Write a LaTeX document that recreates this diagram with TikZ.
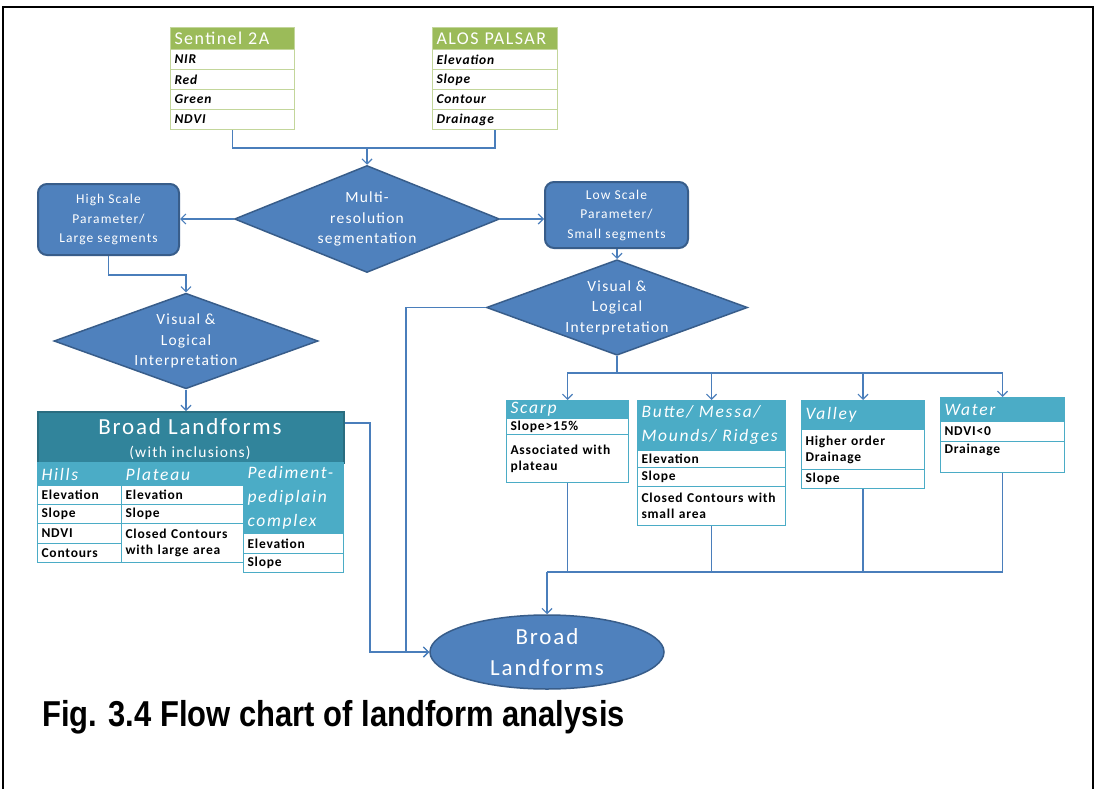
\documentclass[tikz,border=0pt]{standalone}
\usepackage{fontspec}
\setmainfont{Carlito}[LetterSpace=8]
\newfontfamily\capfont{Liberation Sans}[FakeStretch=0.86]
\usetikzlibrary{shapes.geometric,arrows.meta,calc}
\definecolor{bfill}{HTML}{4F81BD}
\definecolor{bdraw}{HTML}{385D8A}
\definecolor{lnc}{HTML}{4A7EBB}
\definecolor{ghd}{HTML}{9BBB59}
\definecolor{gbd}{HTML}{C3D69B}
\definecolor{tdark}{HTML}{31849B}
\definecolor{tdarkbd}{HTML}{2A6D80}
\definecolor{tmid}{HTML}{4BACC6}
\definecolor{tbd}{HTML}{4BACC6}
\newcommand\cellat[7]{\pgfmathsetlengthmacro\cw{#5-8}\node[#1, minimum height=#6, text width=\cw] (#2) at (#3,#4) {#7};}
\tikzset{
 conn/.style={draw=lnc, line width=1.3pt},
 arr/.style={conn, -{Straight Barb[length=5pt,width=10pt,line width=1.2pt]}},
 sbox/.style={rectangle, rounded corners=9pt, fill=bfill, draw=bdraw, line width=2pt, text=white, align=center, inner sep=0pt, font=\fontsize{13.5}{19.5}\selectfont},
 dia/.style={diamond, aspect=2.5, fill=bfill, draw=bdraw, line width=1.5pt, text=white, align=center, inner sep=0pt, font=\fontsize{15.5}{20.5}\selectfont},
 cbase/.style={rectangle, anchor=north west, inner xsep=4pt, inner ysep=0pt, align=left},
 ghdcell/.style={cbase, fill=ghd, draw=gbd, line width=1pt, text=white, font=\fontsize{18}{20}\selectfont},
 grncell/.style={cbase, fill=white, draw=gbd, line width=1pt, font=\bfseries\itshape\fontsize{13.5}{15}\selectfont\addfontfeature{LetterSpace=6}},
 tlhcell/.style={cbase, fill=tmid, draw=tmid, line width=1pt, text=white, font=\itshape\fontsize{17.5}{24}\selectfont\addfontfeature{LetterSpace=10}},
 tlcell/.style={cbase, fill=white, draw=tbd, line width=1pt, font=\bfseries\fontsize{13.5}{16}\selectfont\addfontfeature{LetterSpace=6}},
}
\begin{document}
\begin{tikzpicture}[x=1pt,y=-1pt]
\useasboundingbox (0,0) rectangle (1095,789);
\fill[white] (0,0) rectangle (1095,789);
\draw[line width=2.2pt] (3,800) -- (3,7) -- (1093,7) -- (1093,800);

% level coordinates
\coordinate (tl) at (0,148);
\coordinate (hl) at (0,275);
\coordinate (trl) at (0,373);
\coordinate (ml) at (0,572);
\coordinate (bk) at (370,0);
\coordinate (ck) at (406,0);

% Sentinel 2A
\cellat{ghdcell}{s0}{170}{27}{124}{22}{Sentinel 2A}
\cellat{grncell}{s1}{170}{49}{124}{20}{NIR}
\cellat{grncell}{s2}{170}{69}{124}{20}{Red}
\cellat{grncell}{s3}{170}{89}{124}{20}{Green}
\cellat{grncell}{s4}{170}{109}{124}{20}{NDVI}
% ALOS PALSAR
\cellat{ghdcell}{a0}{432}{27}{125}{22}{ALOS PALSAR}
\cellat{grncell}{a1}{432}{49}{125}{20}{Elevation}
\cellat{grncell}{a2}{432}{69}{125}{20}{Slope}
\cellat{grncell}{a3}{432}{89}{125}{20}{Contour}
\cellat{grncell}{a4}{432}{109}{125}{20}{Drainage}

% diamonds and boxes
\node[dia, minimum width=265, minimum height=107] (multi) at (367,219) {Multi-\\resolution\\segmentation};
\node[sbox, minimum width=141, minimum height=71] (hbox) at (108.5,219.5) {High Scale\\Parameter/\\Large segments};
\node[sbox, minimum width=143, minimum height=66] (lbox) at (616.5,215) {Low Scale\\Parameter/\\Small segments};
\node[dia, minimum width=264, minimum height=90] (visL) at (186,341) {Visual \&\\Logical\\Interpretation};
\node[dia, minimum width=261, minimum height=85] (visR) at (617,307.5) {Visual \&\\Logical\\Interpretation};

% Broad landforms table
\node[rectangle, anchor=north west, fill=tdark, draw=tdarkbd, line width=1.5pt, minimum width=306, minimum height=51, inner sep=0] (bhead) at (37,411) {};
\node[text=white, inner sep=0, font=\fontsize{23}{23}\selectfont] (bt1) at (190,427) {Broad Landforms};
\node[text=white, inner sep=0, font=\fontsize{15.5}{16}\selectfont] (bt2) at (190,453) {(with inclusions)};
\cellat{tlhcell}{hillsH}{37}{462}{84}{23}{Hills}
\cellat{tlhcell}{platH}{121}{462}{122}{23}{Plateau}
\cellat{tlhcell}{pedH}{243}{462}{100}{71}{Pediment-\\pediplain\\complex}
\cellat{tlcell}{h1}{37}{485}{84}{19}{Elevation}
\cellat{tlcell}{h2}{37}{504}{84}{19}{Slope}
\cellat{tlcell}{h3}{37}{523}{84}{20}{NDVI}
\cellat{tlcell}{h4}{37}{543}{84}{19}{Contours}
\cellat{tlcell}{p1}{121}{485}{122}{19}{Elevation}
\cellat{tlcell}{p2}{121}{504}{122}{19}{Slope}
\cellat{tlcell}{p3}{121}{523}{122}{39}{Closed Contours\\with large area}
\cellat{tlcell}{q1}{243}{533}{100}{20}{Elevation}
\cellat{tlcell}{q2}{243}{553}{100}{19}{Slope}

% right tables
\cellat{tlhcell}{scH}{506}{400}{122}{18}{Scarp}
\cellat{tlcell}{sc1}{506}{418}{122}{16}{Slope>15\%}
\cellat{tlcell}{sc2}{506}{434}{122}{48}{Associated with\\plateau}
\cellat{tlhcell}{buH}{637}{400}{148}{50}{Butte/ Messa/\\Mounds/ Ridges}
\cellat{tlcell}{bu1}{637}{450}{148}{17}{Elevation}
\cellat{tlcell}{bu2}{637}{467}{148}{19}{Slope}
\cellat{tlcell}{bu3}{637}{486}{148}{39}{Closed Contours with\\small area}
\cellat{tlhcell}{vaH}{801}{400}{123}{29}{Valley}
\cellat{tlcell}{va1}{801}{429}{123}{40}{Higher order\\Drainage}
\cellat{tlcell}{va2}{801}{469}{123}{19}{Slope}
\cellat{tlhcell}{waH}{940}{397}{124}{24}{Water}
\cellat{tlcell}{wa1}{940}{421}{124}{20}{NDVI<0}
\cellat{tlcell}{wa2}{940}{441}{124}{31}{Drainage\\\mbox{}}

% ellipse
\node[ellipse, fill=bfill, draw=bdraw, line width=1.5pt, minimum width=234, minimum height=74, inner sep=0, text=white, align=center, font=\fontsize{23}{31}\selectfont] (ell) at (547,652) {Broad\\Landforms};

% caption
\node[anchor=base west, inner sep=0, font=\capfont\bfseries\fontsize{36}{36}\selectfont] (cap) at (42,726) {Fig. 3.4 Flow chart of landform analysis};

% connectors
\draw[conn] (s4.south) |- (a4.south |- tl) -- (a4.south);
\draw[arr] (multi.north |- tl) -- (multi.north);
\draw[arr] (multi.west) -- (multi.west -| hbox.east);
\draw[arr] (multi.east) -- (multi.east -| lbox.west);
\draw[arr] (hbox.south) |- (visL.north |- hl) -- (visL.north);
\draw[arr] (lbox.south -| visR.north) -- (visR.north);
\draw[arr] (visL.south) -- (visL.south |- bhead.north);
\draw[conn] (visR.south) -- (visR.south |- trl);
\draw[arr] (visR.south |- trl) -| (scH.north);
\draw[arr] (visR.south |- trl) -| (buH.north);
\draw[arr] (visR.south |- trl) -| (vaH.north);
\draw[arr] (visR.south |- trl) -| (waH.north);
\draw[conn] (sc2.south) |- (ell.north |- ml);
\draw[conn] (bu3.south) |- (ell.north |- ml);
\draw[conn] (va2.south) |- (ell.north |- ml);
\draw[conn] (wa2.south) |- (ell.north |- ml);
\draw[arr] (ell.north |- ml) -- (ell.north);
\draw[arr] ($(bhead.north east)+(0,12)$) -| (bk |- ell.west) -- (ell.west);
\draw[arr] (visR.west) -| (ck |- ell.west) -- (ell.west);
\end{tikzpicture}
\end{document}
